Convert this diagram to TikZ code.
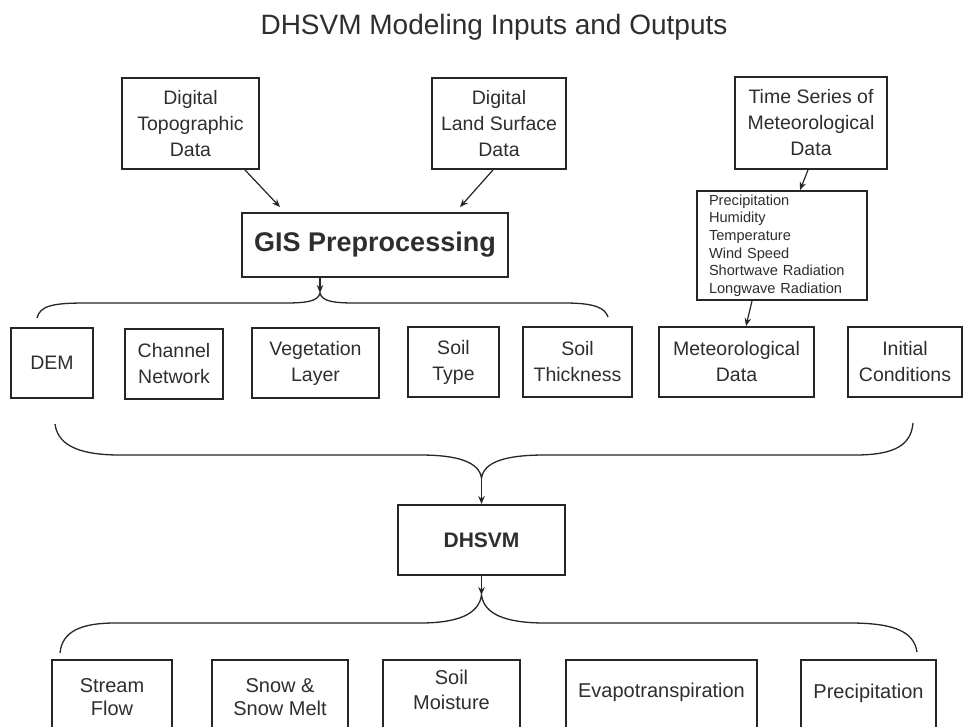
\documentclass[tikz,border=0pt]{standalone}
\usepackage{fontspec}
\setmainfont{Liberation Sans}
\usetikzlibrary{arrows.meta}
\definecolor{ink}{HTML}{262626}
\definecolor{txt}{HTML}{2E2E2E}
\newcommand\boxfont{\fontsize{19.5}{26}\selectfont}
\newcommand\listfont{\fontsize{14.6}{17.7}\selectfont}
\tikzset{
  box/.style={draw=ink, line width=1.9pt, inner sep=0pt, align=center, font=\boxfont, text=txt},
  lbl/.style={inner sep=0pt, align=center, font=\boxfont, text=txt},
  conn/.style={draw=ink, line width=1.2pt, -{Stealth[length=8pt,width=6.5pt]}},
  brace/.style={draw=ink, line width=1.3pt},
}
\begin{document}
\begin{tikzpicture}[x=1pt,y=-1pt]
\useasboundingbox (0,0) rectangle (963,726);
\clip (0,0) rectangle (963,726);
\fill[white] (0,0) rectangle (963,726);

% title
\node[anchor=base, inner sep=0pt, font=\fontsize{28}{32}\selectfont, text=txt] (title) at (494,34) {DHSVM Modeling Inputs and Outputs};

% top row
\node[box, minimum width=137, minimum height=91] (topo) at (190.5,123.5) {Digital\\Topographic\\Data};
\node[box, minimum width=134, minimum height=91] (land) at (499,123.5) {Digital\\Land Surface\\Data};
\node[box, minimum width=152, minimum height=92] (ts) at (811,123) {Time Series of\\Meteorological\\Data};

% GIS
\node[box, minimum width=266, minimum height=64, font=\fontsize{27}{30}\selectfont\bfseries] (gis) at (375,245) {GIS Preprocessing};

% met list
\node[box, minimum width=170, minimum height=109, text width=146, inner xsep=12pt, align=left, font=\listfont] (met) at (782,245.5) {Precipitation\\Humidity\\Temperature\\Wind Speed\\Shortwave Radiation\\Longwave Radiation};

% inputs row
\node[box, minimum width=82, minimum height=70] (dem) at (52,363) {DEM};
\node[box, minimum width=98, minimum height=70] (chan) at (174,364) {Channel\\Network};
\node[box, minimum width=127, minimum height=70] (veg) at (315.5,363) {Vegetation\\Layer};
\node[box, minimum width=91, minimum height=70] (stype) at (453.5,362) {Soil\\Type};
\node[box, minimum width=109, minimum height=70] (sthick) at (577.5,362) {Soil\\Thickness};
\node[box, minimum width=155, minimum height=70] (metd) at (736.5,362) {Meteorological\\Data};
\node[box, minimum width=114, minimum height=70] (init) at (905,362) {Initial\\Conditions};

% DHSVM
\node[box, minimum width=167, minimum height=70, font=\fontsize{21}{24}\selectfont\bfseries] (dhsvm) at (481.5,540) {DHSVM};

% outputs row (boxes run off the bottom edge)
\node[box, anchor=north, minimum width=120, minimum height=90] (sf) at (112,659) {};
\node[box, anchor=north, minimum width=136, minimum height=90] (sn) at (280,659) {};
\node[box, anchor=north, minimum width=137, minimum height=90] (sm) at (451.5,659) {};
\node[box, anchor=north, minimum width=191, minimum height=90] (et) at (661.5,659) {};
\node[box, anchor=north, minimum width=135, minimum height=90] (pr) at (868.5,659) {};
\node[lbl, font=\fontsize{20}{23.5}\selectfont] (sft) at (112,697) {Stream\\Flow};
\node[lbl, font=\fontsize{20}{23.5}\selectfont] (snt) at (280,697) {Snow \&\\Snow Melt};
\node[lbl, font=\fontsize{20}{25}\selectfont] (smt) at (451.5,690) {Soil\\Moisture};
\node[lbl, font=\fontsize{20}{24}\selectfont] (ett) at (661.5,692) {Evapotranspiration};
\node[lbl, font=\fontsize{20}{24}\selectfont] (prt) at (868.5,693) {Precipitation};

% connectors into GIS and met boxes
\draw[conn] ([xshift=54.5pt]topo.south) -- ([xshift=-95pt,yshift=5pt]gis.north);
\draw[conn] ([xshift=-6pt]land.south) -- ([xshift=85pt,yshift=5pt]gis.north);
\draw[conn] ([xshift=-3pt]ts.south) -- ([xshift=18pt]met.north);
\draw[conn] ([xshift=-30pt]met.south) -- ([xshift=9.5pt]metd.north);

% brace 1: GIS to layers
\coordinate (b1L) at (37,318);
\coordinate (cusp1) at (320,293);
\coordinate (b1R) at (608,317);
\draw[brace] (b1L) .. controls (40,306) and (52,303) .. (85,303) -- (285,303)
  .. controls (308,303) and (318,301) .. (cusp1)
  .. controls (322,301) and (332,303) .. (355,303) -- (565,303)
  .. controls (595,303) and (605,308) .. (b1R);
\draw[conn] ([xshift=-55pt]gis.south) -- (cusp1);

% brace 2: inputs to DHSVM
\coordinate (b2L) at (55,424);
\coordinate (cusp2) at (481.5,478);
\coordinate (b2R) at (913,423);
\draw[brace] (b2L) .. controls (58,448) and (85,455) .. (120,455) -- (420,455)
  .. controls (458,455) and (479,462) .. (cusp2)
  .. controls (484,462) and (505,455) .. (545,455) -- (855,455)
  .. controls (895,455) and (911,445) .. (b2R);
\draw[conn] (cusp2) -- (dhsvm.north);

% brace 3: DHSVM to outputs
\coordinate (b3L) at (60,653);
\coordinate (cusp3) at (481.5,595);
\coordinate (b3R) at (917,652);
\draw[brace] (b3L) .. controls (62,632) and (80,623) .. (115,623) -- (420,623)
  .. controls (458,623) and (479,614) .. (cusp3)
  .. controls (484,614) and (505,623) .. (545,623) -- (850,623)
  .. controls (895,623) and (914,632) .. (b3R);
\draw[conn] (dhsvm.south) -- (cusp3);
\end{tikzpicture}
\end{document}
